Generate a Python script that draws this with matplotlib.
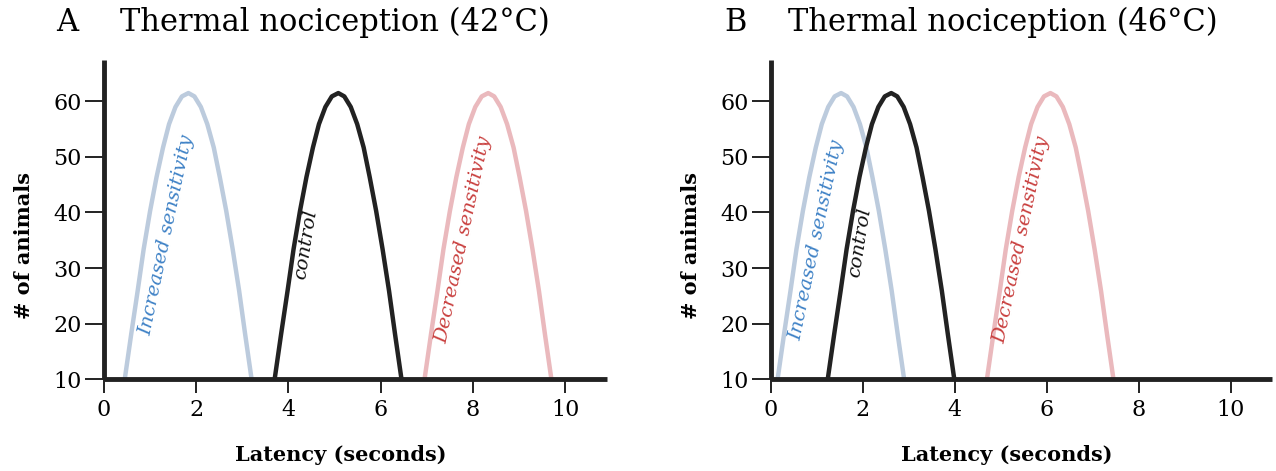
import matplotlib
matplotlib.use('Agg')
import matplotlib.pyplot as plt

### Data
y_profile = [10, 18.1, 25.9, 33.4, 40.3, 46.4, 51.7, 55.9, 59.0, 60.9, 61.5,
             60.9, 59.0, 55.9, 51.7, 46.4, 40.3, 33.4, 25.9, 18.1, 10]

# panel A (42 C)
a_increased_x = [0.45, 0.59, 0.73, 0.86, 1.0, 1.14, 1.28, 1.41, 1.55, 1.69, 1.83,
                 1.96, 2.1, 2.24, 2.38, 2.51, 2.65, 2.79, 2.93, 3.06, 3.2]
a_control_x = [3.7, 3.84, 3.98, 4.11, 4.25, 4.39, 4.53, 4.66, 4.8, 4.94, 5.08,
               5.21, 5.35, 5.49, 5.63, 5.76, 5.9, 6.04, 6.18, 6.31, 6.45]
a_decreased_x = [6.95, 7.09, 7.23, 7.36, 7.5, 7.64, 7.78, 7.91, 8.05, 8.19, 8.33,
                 8.46, 8.6, 8.74, 8.88, 9.01, 9.15, 9.29, 9.43, 9.56, 9.7]

# panel B (46 C)
b_increased_x = [0.15, 0.29, 0.43, 0.56, 0.7, 0.84, 0.98, 1.11, 1.25, 1.39, 1.53,
                 1.66, 1.8, 1.94, 2.08, 2.21, 2.35, 2.49, 2.63, 2.76, 2.9]
b_control_x = [1.24, 1.38, 1.52, 1.65, 1.79, 1.93, 2.07, 2.2, 2.34, 2.48, 2.62,
               2.75, 2.89, 3.03, 3.17, 3.3, 3.44, 3.58, 3.72, 3.85, 3.99]
b_decreased_x = [4.7, 4.84, 4.98, 5.11, 5.25, 5.39, 5.53, 5.66, 5.8, 5.94, 6.08,
                 6.21, 6.35, 6.49, 6.63, 6.76, 6.9, 7.04, 7.18, 7.31, 7.45]

x_ticks = [0, 2, 4, 6, 8, 10]
y_ticks = [10, 20, 30, 40, 50, 60]

panel_letters = ["A", "B"]
panel_titles = ["Thermal nociception (42°C)", "Thermal nociception (46°C)"]
curve_names = ["Increased sensitivity", "control", "Decreased sensitivity"]
# label positions (x, y) per panel, in data units
label_pos = [[(1.37, 36), (4.37, 34.2), (7.8, 35)],
             [(1.0, 35), (1.93, 34.6), (5.46, 35)]]
###

line_colors = ["#bccbdd", "#222222", "#eab9bd"]
text_colors = ["#3f82c6", "#111111", "#c9403f"]
rotations = [78, 81, 78]

plt.rcParams['font.family'] = ['DejaVu Serif']

fig = plt.figure(figsize=(12.76, 4.71), dpi=100)
axes = [fig.add_axes([0.0815, 0.195, 0.394, 0.677]),
        fig.add_axes([0.604, 0.195, 0.393, 0.677])]

panel_curves = [[a_increased_x, a_control_x, a_decreased_x],
                [b_increased_x, b_control_x, b_decreased_x]]

for p, ax in enumerate(axes):
    for c in range(3):
        ax.plot(panel_curves[p][c], y_profile, color=line_colors[c], lw=3.2,
                solid_capstyle='butt', zorder=2)
        lx, ly = label_pos[p][c]
        ax.text(lx, ly, curve_names[c], color=text_colors[c], fontsize=14,
                style='italic', rotation=rotations[c], ha='center', va='center')

    ax.set_xlim(0, 10.9)
    ax.set_ylim(10, 67.4)
    ax.set_xticks(x_ticks)
    ax.set_yticks(y_ticks)
    ax.tick_params(axis='y', length=14, width=1.4, color='#222222', pad=2,
                   labelsize=16)
    ax.tick_params(axis='x', length=10, width=1.4, color='#222222', pad=4,
                   labelsize=16)
    for s in ['top', 'right']:
        ax.spines[s].set_visible(False)
    for s in ['left', 'bottom']:
        ax.spines[s].set_linewidth(3.5)
        ax.spines[s].set_color('#222222')
        ax.spines[s].set_capstyle('butt')
    ax.patch.set_alpha(0)

    ax.set_xlabel("Latency (seconds)", fontsize=15, fontweight='bold')
    ax.xaxis.set_label_coords(0.47, -0.205)
    ax.set_ylabel("# of animals", fontsize=15, fontweight='bold')
    ax.yaxis.set_label_coords(-0.139, 0.42)

fig.text(67 / 1276, 0.953, panel_letters[0], fontsize=22, va='center', ha='center')
fig.text(120 / 1276, 0.953, panel_titles[0], fontsize=22, va='center', ha='left')
fig.text(735 / 1276, 0.953, panel_letters[1], fontsize=22, va='center', ha='center')
fig.text(788 / 1276, 0.953, panel_titles[1], fontsize=22, va='center', ha='left')

plt.savefig("out.png", dpi=100)
